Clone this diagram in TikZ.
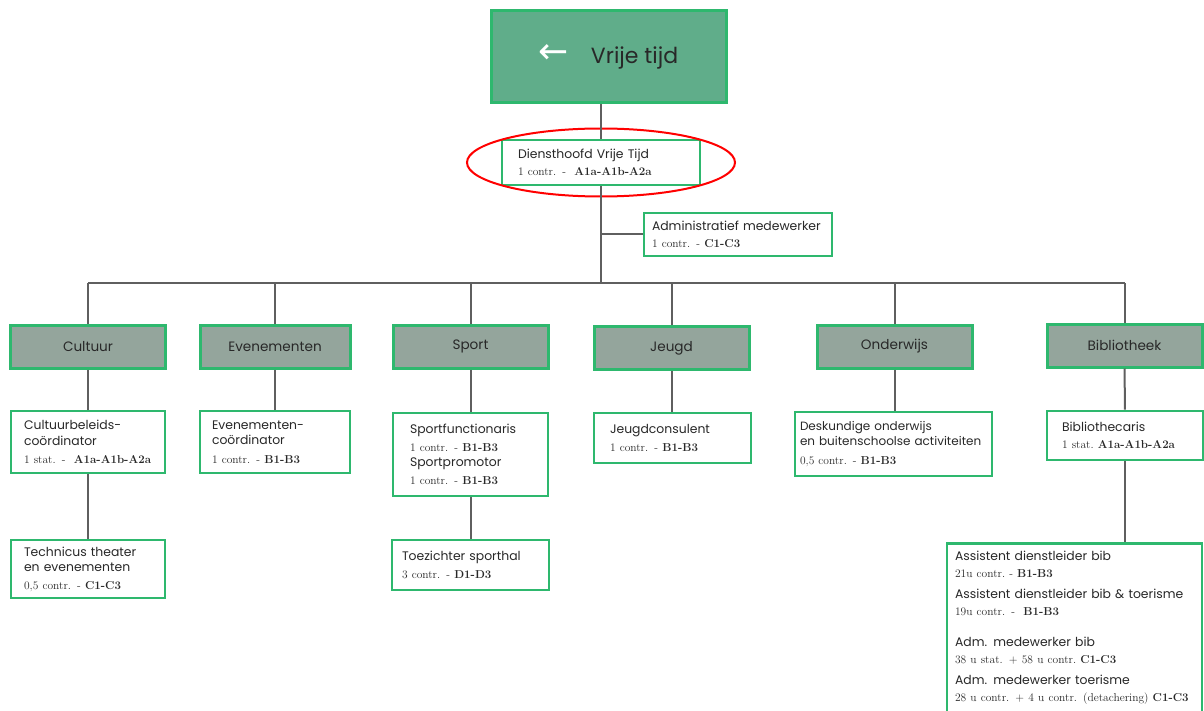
\documentclass[tikz,border=0pt]{standalone}
\usepackage{fontspec}
\setsansfont{Poppins}
\newfontfamily\arrowfont{DejaVu Sans}
\usetikzlibrary{positioning}
\definecolor{boxgreen}{RGB}{46,184,110}
\definecolor{topfill}{RGB}{96,173,138}
\definecolor{catfill}{RGB}{148,165,156}
\definecolor{wire}{RGB}{95,95,95}
\definecolor{ink}{RGB}{40,40,40}
\newcommand{\grade}[2]{{\rmfamily\fontsize{11.5}{12}\selectfont #1\ \textbf{#2}}}

\begin{document}
\begin{tikzpicture}[x=1pt,y=-1pt,font=\sffamily\fontsize{12.4}{15.5}\selectfont,
  top/.style={draw=boxgreen,line width=3pt,fill=topfill,text=ink,minimum width=235pt,minimum height=92pt,font=\sffamily\fontsize{22}{26}\selectfont},
  cat/.style={draw=boxgreen,line width=3pt,fill=catfill,text=ink,minimum width=155pt,minimum height=43pt,font=\sffamily\fontsize{13.6}{16}\selectfont},
  job/.style={draw=boxgreen,line width=2.6pt,fill=white,text=ink,align=left,inner ysep=5pt},
  link/.style={draw=wire,line width=2pt}]
  \useasboundingbox (0,0) rectangle (1204,711);
  % top levels
  \node[top] (vt) at (608.5,57) {{\arrowfont\fontsize{36}{36}\selectfont\color{white}←}\quad Vrije tijd};
  \node[job,text width=166pt,inner xsep=16pt,minimum height=45pt] (dh) at (601,162.5)
    {Diensthoofd Vrije Tijd\\[2pt]\grade{1 contr. - }{A1a-A1b-A2a}};
  \node[job,text width=172pt,inner xsep=8pt,minimum height=43pt] (adm) at (738,234.5)
    {Administratief medewerker\\[2pt]\grade{1 contr. -}{C1-C3}};
  \draw[red,line width=2pt] (dh.center) ellipse [x radius=134, y radius=34];
  % departments
  \node[cat] (cul) at (88,346.5) {Cultuur};
  \node[cat,minimum width=150pt] (eve) at (275,346.5) {Evenementen};
  \node[cat] (spo) at (470.5,346.5) {Sport};
  \node[cat] (jeu) at (671.5,348) {Jeugd};
  \node[cat] (ond) at (894.5,346.5) {Onderwijs};
  \node[cat] (bib) at (1124.5,345.5) {Bibliotheek};
  % staff
  \node[job,text width=128pt,inner xsep=13pt,minimum height=62pt] (cbc) at (88,442)
    {Cultuurbeleids-\\coördinator\\[3pt]\grade{1 stat. - }{A1a-A1b-A2a}};
  \node[job,text width=126pt,inner xsep=12pt,minimum height=62pt] (evc) at (275,442)
    {Evenementen-\\coördinator\\[3pt]\grade{1 contr. -}{B1-B3}};
  \node[job,text width=121pt,inner xsep=17pt,minimum height=83pt] (spf) at (470.5,454.5)
    {Sportfunctionaris\\[2pt]\grade{1 contr. -}{B1-B3}\\Sportpromotor\\[2pt]\grade{1 contr. -}{B1-B3}};
  \node[job,text width=125pt,inner xsep=16pt,minimum height=50pt] (jgc) at (672.5,438)
    {Jeugdconsulent\\[2pt]\grade{1 contr. -}{B1-B3}};
  \node[job,text width=187pt,inner xsep=5pt,minimum height=64pt,font=\sffamily\fontsize{12}{15.5}\selectfont] (dsk) at (893.5,444)
    {Deskundige onderwijs\\\mbox{en buitenschoolse activiteiten}\\[3pt]\grade{0,5 contr. -}{B1-B3}};
  \node[job,text width=126pt,inner xsep=15pt,minimum height=49pt] (btc) at (1125,435.5)
    {Bibliothecaris\\[2pt]\grade{1 stat.}{A1a-A1b-A2a}};
  \node[job,text width=128pt,inner xsep=13pt,minimum height=58pt] (tec) at (88,569)
    {Technicus theater\\en evenementen\\[2pt]\grade{0,5 contr. -}{C1-C3}};
  \node[job,text width=137pt,inner xsep=10pt,minimum height=50pt] (tzs) at (470.5,565)
    {Toezichter sporthal\\[2pt]\grade{3 contr. -}{D1-D3}};
  \node[job,text width=239pt,inner xsep=8pt,anchor=north,inner ysep=8pt] (bst) at (1074.5,542)
    {Assistent dienstleider bib\\[1pt]\grade{21u contr.\ -}{B1-B3}\\[6pt]
     Assistent dienstleider bib \& toerisme\\[1pt]\grade{19u contr. - }{B1-B3}\\[16pt]
     Adm. medewerker bib\\[1pt]\grade{38 u stat. + 58 u contr.}{C1-C3}\\[6pt]
     Adm. medewerker toerisme\\[1pt]\grade{28 u contr. + 4 u contr. (detachering)}{C1-C3}\\[30pt]};
  % lines
  \coordinate (busl) at (88,283);
  \coordinate (busr) at (1125,283);
  \draw[link] (dh.north) -- (dh.north |- vt.south);
  \draw[link] (dh.south) -- (dh.south |- busl);
  \draw[link] (adm.west) -- (adm.west -| dh.south);
  \draw[link] (busl) -- (busr);
  \foreach \d in {cul,eve,spo,jeu,ond,bib}
    \draw[link] (\d.north) -- (\d.north |- busl);
  \draw[link] (cul) -- (cbc);
  \draw[link] (eve) -- (evc);
  \draw[link] (spo) -- (spf);
  \draw[link] (jeu.south) -- (jeu.south |- jgc.north);
  \draw[link] (ond.south) -- (ond.south |- dsk.north);
  \draw[link] (bib) -- (btc);
  \draw[link] (cbc) -- (tec);
  \draw[link] (spf) -- (tzs);
  \draw[link] (btc.south) -- (btc.south |- bst.north);
\end{tikzpicture}
\end{document}
